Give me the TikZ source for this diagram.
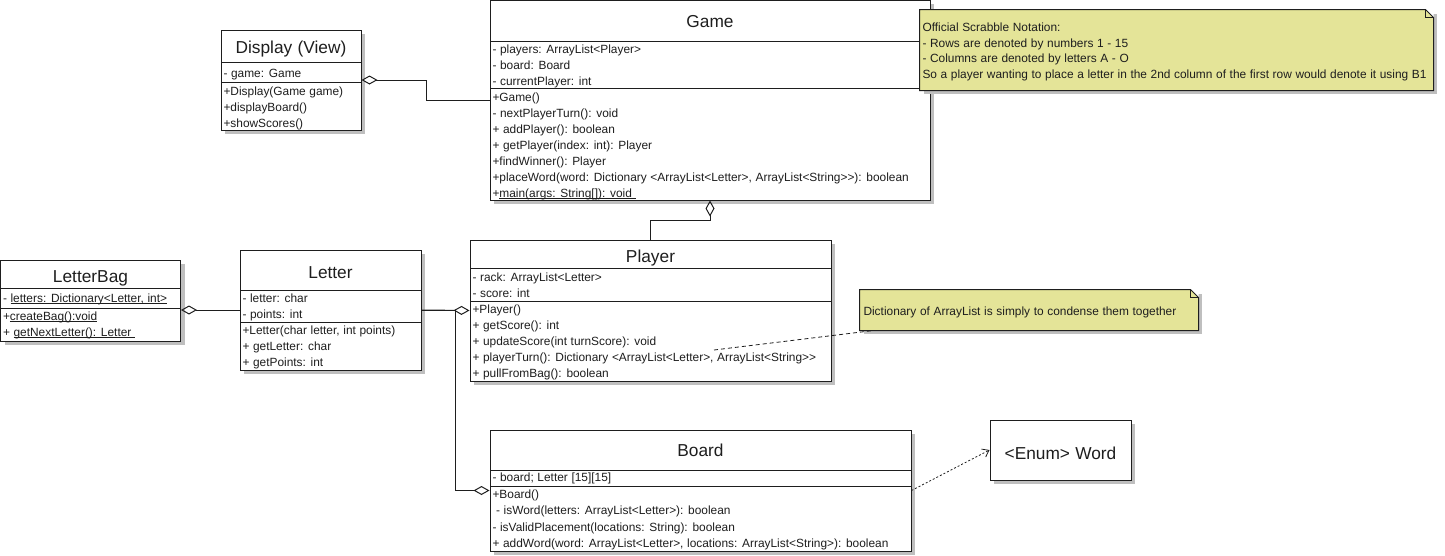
\documentclass[tikz,border=0pt]{standalone}
\usepackage{fontspec}
\setmainfont{Liberation Sans}[Ligatures=TeXOff, WordSpace=1.1]
\usetikzlibrary{arrows.meta,shadows,calc}
\definecolor{ink}{RGB}{30,30,30}
\definecolor{notefill}{RGB}{228,228,152}
\newcommand{\umlrow}{\fontsize{11.9}{13}\selectfont}
\newcommand{\umltitle}{\fontsize{17.3}{20}\selectfont}
\newcommand{\umlul}[1]{\setbox0\hbox{#1}\rlap{\rule[-1.6pt]{\wd0}{0.8pt}}\box0}

\begin{document}
\begin{tikzpicture}[x=1pt, y=-1pt, line width=1pt,
    cls/.style = {draw=ink, fill=white, inner sep=0, drop shadow={shadow xshift=4pt, shadow yshift=-4pt, fill=black!25, opacity=1}},
    note/.style = {fill=notefill, inner sep=0, drop shadow={shadow xshift=4pt, shadow yshift=-4pt, fill=black!25, opacity=1}},
    ttl/.style = {anchor=base, inner sep=0, font=\umltitle, text=ink},
    row/.style = {anchor=base west, inner sep=0, font=\umlrow, text=ink},
    agg/.style = {{Diamond[open, length=16pt, width=9pt]}-},
    aggend/.style = {-{Diamond[open, length=16pt, width=9pt]}}]
    \useasboundingbox (0,0) rectangle (1445,555);

    % Game
    \node[cls, minimum width=440pt, minimum height=200pt] (game) at (710,100) {};
    \node[ttl] (gt) at (710,27) {Game};
    \draw[ink] (490,41) -- (930,41);
    \draw[ink] (490,88) -- (930,88);
    \node[row] (ga1) at (492,53) {- players: ArrayList<Player>};
    \node[row] (ga2) at (492,69) {- board: Board};
    \node[row] (ga3) at (492,85) {- currentPlayer: int};
    \node[row] (gm1) at (492,101) {+Game()};
    \node[row] (gm2) at (492,117) {- nextPlayerTurn(): void};
    \node[row] (gm3) at (492,133) {+ addPlayer(): boolean};
    \node[row] (gm4) at (492,149) {+ getPlayer(index: int): Player};
    \node[row] (gm5) at (492,165) {+findWinner(): Player};
    \node[row] (gm6) at (492,181) {+placeWord(word: Dictionary <ArrayList<Letter>, ArrayList<String>>): boolean};
    \node[row] (gm7) at (492,197) {+\umlul{main(args: String[]): void\ }};

    % Display (View)
    \node[cls, minimum width=140pt, minimum height=100pt] (display) at (291,80) {};
    \node[ttl] (dt) at (291,53) {Display (View)};
    \draw[ink] (221,62) -- (361,62);
    \draw[ink] (221,82) -- (361,82);
    \node[row] (da1) at (223,77) {- game: Game};
    \node[row] (dm1) at (223,95) {+Display(Game game)};
    \node[row] (dm2) at (223,111) {+displayBoard()};
    \node[row] (dm3) at (223,127) {+showScores()};

    % LetterBag
    \node[cls, minimum width=180pt, minimum height=81pt] (lbag) at (90.5,300.5) {};
    \node[ttl] (lbt) at (90.5,282) {LetterBag};
    \draw[ink] (0.5,288) -- (180.5,288);
    \draw[ink] (0.5,308) -- (180.5,308);
    \node[row] (lba1) at (2.5,302) {- \umlul{letters: Dictionary<Letter, int>}};
    \node[row] (lbm1) at (2.5,320) {+\umlul{createBag():void}};
    \node[row] (lbm2) at (2.5,336) {+ \umlul{getNextLetter(): Letter\ }};

    % Letter
    \node[cls, minimum width=181pt, minimum height=120pt] (letter) at (330.5,310) {};
    \node[ttl] (lt) at (330.5,278) {Letter};
    \draw[ink] (240,290) -- (421,290);
    \draw[ink] (240,322) -- (421,322);
    \node[row] (la1) at (242,302) {- letter: char};
    \node[row] (la2) at (242,318) {- points: int};
    \node[row] (lm1) at (242,334) {+Letter(char letter, int points)};
    \node[row] (lm2) at (242,350) {+ getLetter: char};
    \node[row] (lm3) at (242,366) {+ getPoints: int};

    % Player
    \node[cls, minimum width=361pt, minimum height=141pt] (player) at (650.5,310.5) {};
    \node[ttl] (pt) at (650.5,262) {Player};
    \draw[ink] (470,268) -- (831,268);
    \draw[ink] (470,301) -- (831,301);
    \node[row] (pa1) at (472,281) {- rack: ArrayList<Letter>};
    \node[row] (pa2) at (472,297) {- score: int};
    \node[row] (pm1) at (472,313) {+Player()};
    \node[row] (pm2) at (472,329) {+ getScore(): int};
    \node[row] (pm3) at (472,345) {+ updateScore(int turnScore): void};
    \node[row] (pm4) at (472,361) {+ playerTurn(): Dictionary <ArrayList<Letter>, ArrayList<String>>};
    \node[row] (pm5) at (472,377) {+ pullFromBag(): boolean};

    % Board
    \node[cls, minimum width=421pt, minimum height=121pt] (board) at (700.5,490.5) {};
    \node[ttl] (bt) at (700.5,456) {Board};
    \draw[ink] (490,470) -- (911,470);
    \draw[ink] (490,486) -- (911,486);
    \node[row] (ba1) at (492,481) {- board; Letter [15][15]};
    \node[row] (bm1) at (492,498) {+Board()};
    \node[row] (bm2) at (492,514.5) {\ - isWord(letters: ArrayList<Letter>): boolean};
    \node[row] (bm3) at (492,531) {- isValidPlacement(locations: String): boolean};
    \node[row] (bm4) at (492,547) {+ addWord(word: ArrayList<Letter>, locations: ArrayList<String>): boolean};

    % <Enum> Word
    \node[cls, minimum width=141pt, minimum height=60pt] (enum) at (1060.5,450) {};
    \node[ttl] (et) at (1060.5,459) {<Enum> Word};

    % notes
    \node[note, minimum width=513pt, minimum height=80pt] (note1) at (1176.5,50) {};
    \fill[white] ($(note1.north east)+(-8,0)$) -- (note1.north east) -- ++(0,8) -- cycle;
    \draw[ink] (note1.south west) -- (note1.north west) -- ($(note1.north east)+(-8,0)$) -- ($(note1.north east)+(0,8)$) -- (note1.south east) -- cycle;
    \draw[ink, line width=0.6pt] ($(note1.north east)+(-8,0)$) -- ++(0,8) -- ++(8,0);
    \node[row] (n1a) at (922,31) {Official Scrabble Notation:};
    \node[row] (n1b) at (922,47) {- Rows are denoted by numbers 1 - 15};
    \node[row] (n1c) at (922,62.5) {- Columns are denoted by letters A - O};
    \node[row] (n1d) at (922,78) {So a player wanting to place a letter in the 2nd column of the first row would denote it using B1};

    \node[note, minimum width=338pt, minimum height=40pt] (note2) at (1029,310) {};
    \fill[white] ($(note2.north east)+(-8,0)$) -- (note2.north east) -- ++(0,8) -- cycle;
    \draw[ink] (note2.south west) -- (note2.north west) -- ($(note2.north east)+(-8,0)$) -- ($(note2.north east)+(0,8)$) -- (note2.south east) -- cycle;
    \draw[ink, line width=0.6pt] ($(note2.north east)+(-8,0)$) -- ++(0,8) -- ++(8,0);
    \node[row] (n2a) at (863,315) {Dictionary of ArrayList is simply to condense them together};

    % connectors
    \coordinate (turn) at (714,350);
    \draw[ink, agg] (display.east) -- ++(65,0) |- (game.west);
    \draw[ink, agg] (game.south) -- ++(0,20) -| (player.north);
    \draw[ink, agg] (letter.west -| lbag.east) -- (letter.west);
    \draw[ink, aggend] (letter.east) -- (player.west);
    \draw[ink, aggend] (letter.east) -- ++(34,0) |- (board.west);
    \draw[ink, line width=0.8pt, dash pattern=on 4pt off 3pt] (turn) -- ($(note2.south west)+(14,0)$);
    \draw[ink, line width=0.8pt, dash pattern=on 2pt off 2pt, -{Straight Barb[length=6pt, width=9pt]}] (board.east) -- (enum.west);
\end{tikzpicture}
\end{document}
